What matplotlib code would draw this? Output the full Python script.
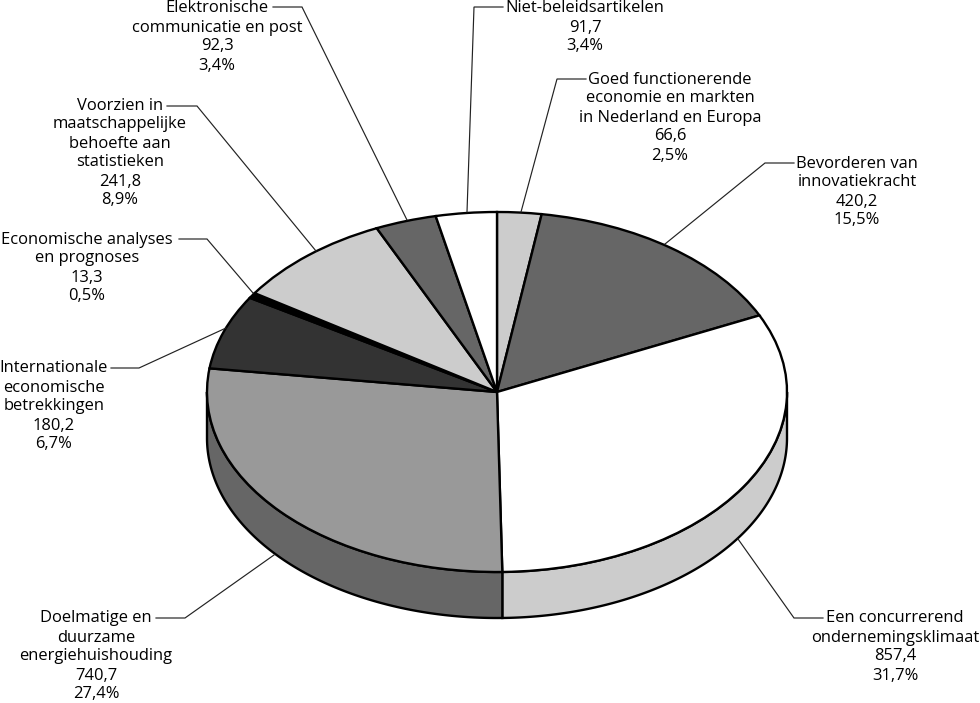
import numpy as np
import matplotlib
matplotlib.use("Agg")
import matplotlib.pyplot as plt

# --- data, clockwise from the top ---
names = [
    "Goed functionerende\neconomie en markten\nin Nederland en Europa",
    "Bevorderen van\ninnovatiekracht",
    "Een concurrerend\nondernemingsklimaat",
    "Doelmatige en\nduurzame\nenergiehuishouding",
    "Internationale\neconomische\nbetrekkingen",
    "Economische analyses\nen prognoses",
    "Voorzien in\nmaatschappelijke\nbehoefte aan\nstatistieken",
    "Elektronische\ncommunicatie en post",
    "Niet-beleidsartikelen",
]
values = [66.6, 420.2, 857.4, 740.7, 180.2, 13.3, 241.8, 92.3, 91.7]
shares = ["2,5%", "15,5%", "31,7%", "27,4%", "6,7%", "0,5%", "8,9%", "3,4%", "3,4%"]
top_colors = ["#cccccc", "#666666", "#ffffff", "#999999", "#333333",
              "#000000", "#cccccc", "#666666", "#ffffff"]
side_colors = {2: "#cccccc", 3: "#666666"}

# label centre (x, y of first line) in pixels
label_pos = [(670, 79), (857, 163), (895, 618), (96, 618), (54, 368),
             (87, 239), (120, 105), (217, 8), (585, 8)]
# leader lines in pixels
leaders = [
    [(521, 212), (557, 79), (586, 79)],
    [(665, 244), (765, 163), (794, 163)],
    [(738, 539), (794, 618), (823, 618)],
    [(274, 555), (185, 618), (156, 618)],
    [(226, 328), (139, 368), (111, 368)],
    [(253, 293), (207, 239), (179, 239)],
    [(316, 251), (197, 106), (167, 106)],
    [(407, 220), (302, 7), (273, 7)],
    [(467, 212), (474, 7), (503, 7)],
]

W, H = 980, 703
cx, cy, rx, ry, depth = 497, 392, 290, 180, 46

plt.rcParams["font.family"] = ["Open Sans", "DejaVu Sans"]
fig = plt.figure(figsize=(W / 100, H / 100), dpi=100, facecolor="white")

# pie axes: one data unit is one radius, so the circle comes out as an ellipse
ax = fig.add_axes([0, 0, 1, 1])
ax.pie(values, colors=top_colors, startangle=90, counterclock=False, normalize=True,
       wedgeprops={"edgecolor": "black", "linewidth": 1.7, "zorder": 3})
ax.set_aspect("auto")
ax.set_xlim(-cx / rx, (W - cx) / rx)
ax.set_ylim((cy - H) / ry, cy / ry)

# rim under the visible front half
edges = np.concatenate([[0], np.cumsum(values)]) / sum(values) * 360
d = depth / ry
for i, col in side_colors.items():
    a = np.radians(np.linspace(edges[i], min(edges[i + 1], 270), 200))
    if i == 2:
        a = np.radians(np.linspace(90, edges[i + 1], 200))
    x, y = np.sin(a), np.cos(a)
    ax.fill(np.r_[x, x[::-1]], np.r_[y, y[::-1] - d], facecolor=col,
            edgecolor="black", linewidth=1.7, zorder=2)

# overlay in pixel coordinates for labels and leader lines
ov = fig.add_axes([0, 0, 1, 1])
ov.set_xlim(0, W)
ov.set_ylim(H, 0)
ov.axis("off")
ov.patch.set_alpha(0)

for pts in leaders:
    xs, ys = zip(*pts)
    ov.plot(xs, ys, color="#222222", linewidth=0.85, solid_joinstyle="miter")

for name, val, share, (x, y) in zip(names, values, shares, label_pos):
    txt = f"{name}\n{val:.1f}".replace(".", ",") + f"\n{share}"
    ov.text(x, y - 7.5, txt, ha="center", va="top", multialignment="center",
            fontsize=11.9, linespacing=1.25, color="black", clip_on=False)

fig.savefig("out.png", dpi=100)
